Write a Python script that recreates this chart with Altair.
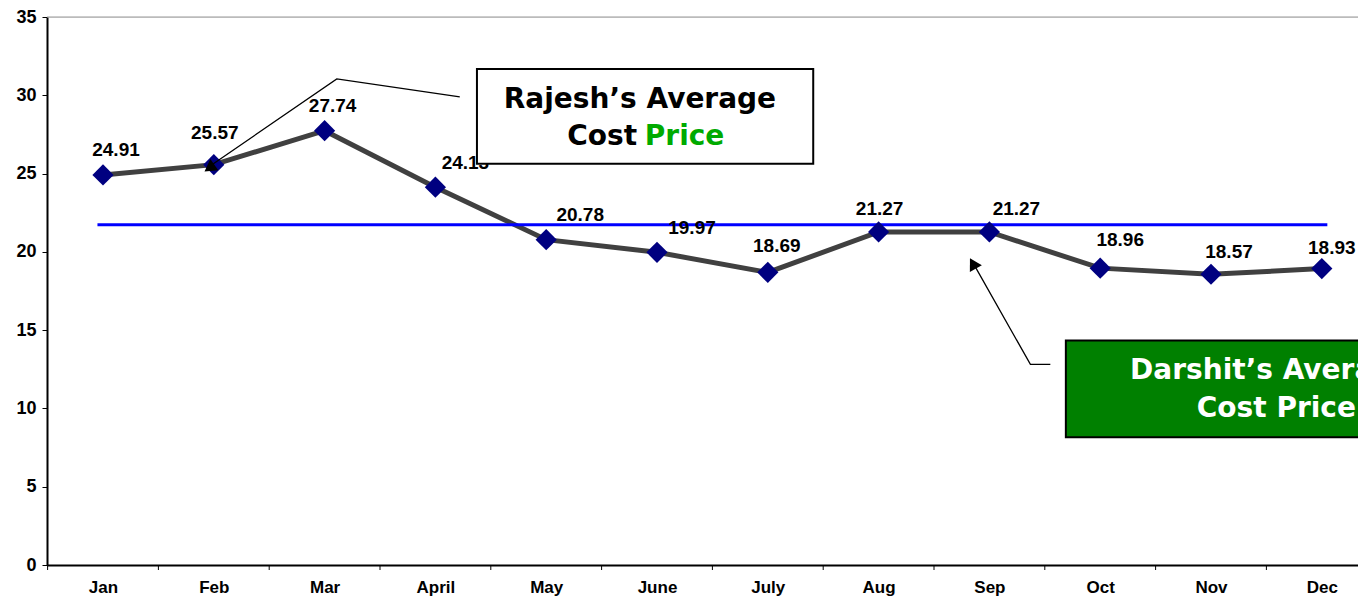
import altair as alt
import pandas as pd
import json

# ---------------- data ----------------
months = ["Jan", "Feb", "Mar", "April", "May", "June", "July", "Aug", "Sep", "Oct", "Nov", "Dec"]
rajesh_cost = [24.91, 25.57, 27.74, 24.13, 20.78, 19.97, 18.69, 21.27, 21.27, 18.96, 18.57, 18.93]
value_labels = ["24.91", "25.57", "27.74", "24.13", "20.78", "19.97", "18.69", "21.27", "21.27", "18.96", "18.57", "18.93"]
# label offsets from the point, in pixels (right / up)
label_dx_px = [13, 1, 8, 30, 34, 35, 9, 1, 27, 20, 18, 10]
label_up_px = [25, 32, 25, 24, 25, 24, 26, 23, 23, 28, 22, 21]

Y_MAX = 35
W, H = 1311, 548
PX_X = 110.8
PX_Y = H / Y_MAX
X_MIN = -56 / PX_X
X_MAX = X_MIN + W / PX_X

avg_cost = sum(rajesh_cost) / len(rajesh_cost)

df = pd.DataFrame({
    "idx": list(range(len(months))),
    "month": months,
    "cost": rajesh_cost,
    "label": value_labels,
    "lx": [i + dx / PX_X for i, dx in enumerate(label_dx_px)],
    "ly": [v + up / PX_Y for v, up in zip(rajesh_cost, label_up_px)],
})

FONT_AX = "Liberation Sans"
FONT_BOX = "DejaVu Sans"

x_scale = alt.Scale(domain=[X_MIN, X_MAX], nice=False, zero=False)
y_scale = alt.Scale(domain=[0, Y_MAX], nice=False, zero=True)

label_expr = "%s[datum.value]" % json.dumps(months)

x_enc = alt.X("idx:Q", scale=x_scale, title=None,
              axis=alt.Axis(values=list(range(12)), labelExpr=label_expr, ticks=False, grid=False,
                            domainColor="black", domainWidth=2, labelFont=FONT_AX, labelFontSize=17,
                            labelFontWeight="bold", labelColor="black", labelPadding=14,
                            labelFlush=False, labelOverlap=False))
y_enc = alt.Y("cost:Q", scale=y_scale, title=None,
              axis=alt.Axis(values=list(range(0, 36, 5)), grid=False, domainColor="black", domainWidth=2,
                            tickColor="black", tickSize=5, tickWidth=1, labelFont=FONT_AX, labelFontSize=18,
                            labelFontWeight="bold", labelColor="black", labelPadding=6))

base = alt.Chart(df)

# top border
top_df = pd.DataFrame({"x": [X_MIN], "x2": [X_MAX], "y": [Y_MAX]})
top_rule = alt.Chart(top_df).mark_rule(color="#999999", strokeWidth=1).encode(
    x=alt.X("x:Q", scale=x_scale), x2="x2:Q", y=alt.Y("y:Q", scale=y_scale))

# x-axis boundary ticks (between months)
tick_df = pd.DataFrame({"x": [i - 0.5 for i in range(13) if i - 0.5 <= X_MAX]})
x_ticks = alt.Chart(tick_df).mark_rule(color="black", strokeWidth=1).encode(
    x=alt.X("x:Q", scale=x_scale), y=alt.value(H), y2=alt.value(H + 5))

# average line
avg_df = pd.DataFrame({"x": [-0.05], "x2": [11.05], "y": [avg_cost]})
avg_rule = alt.Chart(avg_df).mark_rule(color="#0000FF", strokeWidth=3).encode(
    x=alt.X("x:Q", scale=x_scale), x2="x2:Q", y=alt.Y("y:Q", scale=y_scale))

line = base.mark_line(color="#404040", strokeWidth=5).encode(x=x_enc, y=y_enc)
points = base.mark_point(shape="diamond", filled=True, color="#000080", size=450, opacity=1).encode(
    x=alt.X("idx:Q", scale=x_scale), y=alt.Y("cost:Q", scale=y_scale))
labels = base.mark_text(font=FONT_AX, fontSize=19, fontWeight="bold", color="black", align="center",
                        baseline="middle").encode(
    x=alt.X("lx:Q", scale=x_scale), y=alt.Y("ly:Q", scale=y_scale), text="label:N")

# callout leader lines (data coordinates)
callout_df = pd.DataFrame({
    "grp": ["r", "r", "r", "d", "d", "d"],
    "ord": [0, 1, 2, 0, 1, 2],
    "x": [3.22, 2.11, 0.96, 8.55, 8.37, 7.86],
    "y": [29.90, 31.05, 25.45, 12.81, 12.81, 19.2],
})
callouts = alt.Chart(callout_df).mark_line(color="black", strokeWidth=1.3).encode(
    x=alt.X("x:Q", scale=x_scale), y=alt.Y("y:Q", scale=y_scale), detail="grp:N", order="ord:Q")

arrow_df = pd.DataFrame({"x": [0.975, 7.86], "y": [25.42, 19.15], "ang": [235, 330.5]})
arrows = alt.Chart(arrow_df).mark_point(shape="triangle", filled=True, color="black", size=190,
                                        opacity=1).encode(
    x=alt.X("x:Q", scale=x_scale), y=alt.Y("y:Q", scale=y_scale), angle=alt.Angle("ang:Q", scale=None))

# boxes
box_df = pd.DataFrame({
    "x": [3.375, 8.69], "x2": [6.41, 12.5], "y": [31.68, 14.34], "y2": [25.63, 8.16],
    "fill": ["white", "#008000"],
})
boxes = alt.Chart(box_df).mark_rect(stroke="black", strokeWidth=2, clip=True).encode(
    x=alt.X("x:Q", scale=x_scale), x2="x2:Q", y=alt.Y("y:Q", scale=y_scale), y2="y2:Q",
    fill=alt.Fill("fill:N", scale=None))

text_df = pd.DataFrame({
    "x": [4.846, 4.82, 4.89, 9.27, 10.59],
    "y": [29.71, 27.35, 27.35, 12.37, 9.95],
    "t": ["Rajesh’s Average", "Cost", "Price", "Darshit’s Average", "Cost Price"],
    "c": ["black", "black", "#00AA00", "white", "white"],
    "a": ["center", "right", "left", "left", "center"],
})
box_texts = []
for al in ["center", "right", "left"]:
    sub = text_df[text_df["a"] == al]
    box_texts.append(
        alt.Chart(sub).mark_text(font=FONT_BOX, fontSize=28, fontWeight="bold", align=al,
                                 baseline="middle", clip=True).encode(
            x=alt.X("x:Q", scale=x_scale), y=alt.Y("y:Q", scale=y_scale), text="t:N",
            color=alt.Color("c:N", scale=None)))

chart = alt.layer(line, top_rule, x_ticks, avg_rule, points, labels, callouts, arrows, boxes,
                  *box_texts).properties(
    width=W, height=H,
    autosize=alt.AutoSizeParams(type="none"),
    padding={"left": 39, "top": 9, "right": 0, "bottom": 34},
).configure_view(stroke=None).configure(background="white")

chart.save("out.html", embed_options={"renderer": "svg", "actions": False})
